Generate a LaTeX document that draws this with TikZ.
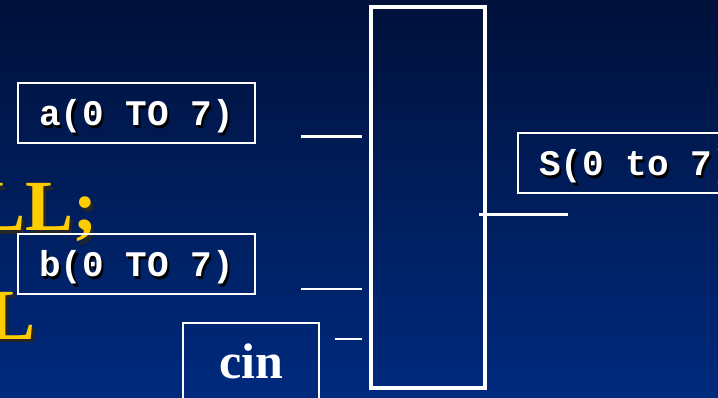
\documentclass[tikz,border=0pt]{standalone}
\usepackage{fontspec}
\setmainfont{Liberation Serif}
\setmonofont{Liberation Mono}

\definecolor{slidetop}{HTML}{00113A}
\definecolor{slidebottom}{HTML}{002A7E}
\definecolor{titleyellow}{HTML}{FFCC00}

% text with a dark copy pushed down and right behind it
\newcommand{\dropshadow}[3]{\makebox[0pt][l]{\hspace*{#1}\raisebox{-#1}{\color{#2}#3}}#3}

\begin{document}
\begin{tikzpicture}[
        x=1pt, y=-1pt,
        port/.style={draw=white, line width=1.8pt, minimum width=237pt, minimum height=60pt,
            inner sep=0pt, text height=29pt, text depth=3pt, text=white,
            font=\fontsize{36}{40}\selectfont\ttfamily\bfseries},
        carry/.style={draw=white, line width=1.8pt, minimum width=136pt, minimum height=84pt,
            inner sep=0pt, text height=34pt, text depth=8pt, text=white,
            font=\fontsize{50}{56}\selectfont\bfseries},
        title/.style={inner sep=0pt, text=titleyellow, font=\fontsize{72}{80}\selectfont\bfseries},
        stub/.style={draw=white, line width=2.2pt}
    ]
    \useasboundingbox (0,0) rectangle (718,398);
    \clip (0,0) rectangle (718,398);
    \shade[top color=slidetop, bottom color=slidebottom] (0,0) rectangle (718,398);

    % heading behind the block
    \node[title, anchor=base west] (head1) at (-23,231) {\dropshadow{3.5pt}{black!85}{LL;}};
    \node[title, anchor=base west] (head2) at (-13,339) {\dropshadow{3.5pt}{black!85}{L}};

    % the adder block
    \node[draw=white, line width=3.2pt, minimum width=114pt, minimum height=381pt] (adder) at (428,197.5) {};

    % operands, carry and sum
    \node[port] (opa) at (136.5,113) {\dropshadow{2.2pt}{black}{a(0 TO 7)}};
    \node[port] (opb) at (136.5,264) {\dropshadow{2.2pt}{black}{b(0 TO 7)}};
    \node[carry] (cin) at (251,365) {cin};
    \node[port] (sum) at (636.5,163) {\dropshadow{2.2pt}{black}{S(0 to 7)}};

    % pins of the block
    \coordinate (a pin) at (362,136.5);
    \coordinate (a end) at (301,136.5);
    \coordinate (b pin) at (362,289);
    \coordinate (b end) at (301,289);
    \coordinate (c pin) at (362,339);
    \coordinate (c end) at (335,339);
    \coordinate (s pin) at (479,214.5);
    \coordinate (s end) at (568,214.5);
    \draw[stub] (a end) -- (a pin);
    \draw[stub] (b end) -- (b pin);
    \draw[stub] (c end) -- (c pin);
    \draw[stub] (s pin) -- (s end);
\end{tikzpicture}
\end{document}
